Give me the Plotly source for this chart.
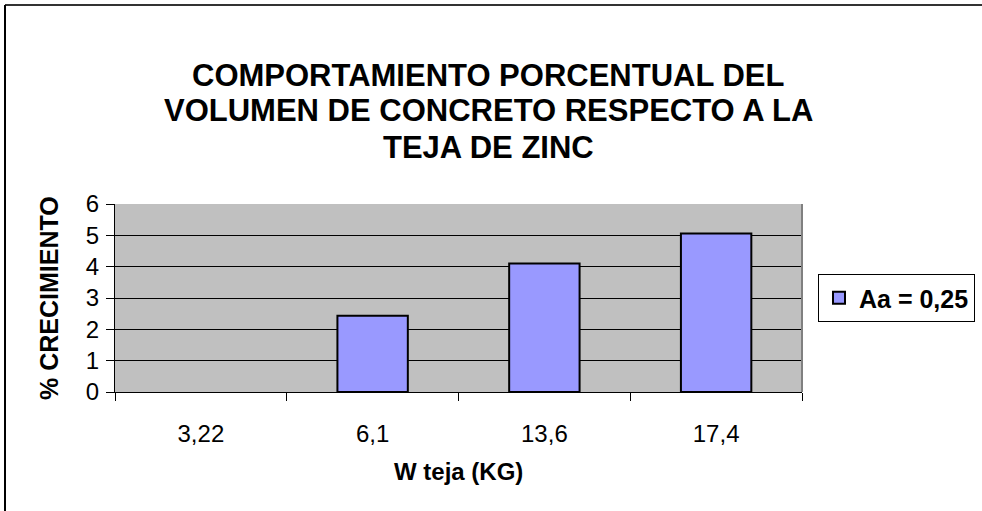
import plotly.graph_objects as go

# Chart data
categories = ["3,22", "6,1", "13,6", "17,4"]
crecimiento = [0, 2.43, 4.1, 5.06]
series_name = "Aa = 0,25"

title_lines = [
    "COMPORTAMIENTO PORCENTUAL DEL",
    "VOLUMEN DE CONCRETO RESPECTO A LA",
    "TEJA DE ZINC",
]
x_title = "W teja (KG)"
y_title = "% CRECIMIENTO"
y_ticks = [0, 1, 2, 3, 4, 5, 6]

FONT = "Arial, Liberation Sans, sans-serif"

W, H = 982, 511
L, R, T, B = 115, 180, 204, 119
pw, ph = W - L - R, H - T - B


def px_x(p):
    return (p - L) / pw


def px_y(p):
    return (H - B - p) / ph


fig = go.Figure()
fig.add_trace(go.Bar(
    x=categories,
    y=crecimiento,
    name=series_name,
    width=0.41,
    marker=dict(
        color="#9999FF",
        line=dict(color="#000000", width=[2 if v else 0 for v in crecimiento]),
    ),
    showlegend=True,
))

fig.update_layout(
    width=W, height=H,
    margin=dict(l=L, r=R, t=T, b=B, pad=0, autoexpand=False),
    paper_bgcolor="white",
    plot_bgcolor="#C0C0C0",
    font=dict(family=FONT, color="black", size=24),
    showlegend=True,
    legend=dict(
        x=px_x(818), xanchor="left",
        y=0.5, yanchor="middle",
        bordercolor="#000000", borderwidth=1,
        bgcolor="white",
        font=dict(family=FONT, size=25, color="black", weight="bold"),
        itemsizing="constant",
        tracegroupgap=0,
    ),
)

fig.update_xaxes(
    type="category",
    showgrid=False,
    showline=True, linecolor="#000000", linewidth=1,
    ticks="outside", tickson="boundaries", ticklen=8, tickcolor="#000000",
    tickfont=dict(family=FONT, size=24, color="black"),
    ticklabelstandoff=20,
    zeroline=False,
    fixedrange=True,
)
fig.update_yaxes(
    range=[0, 6],
    tickvals=y_ticks,
    showgrid=True, gridcolor="#000000", gridwidth=1,
    showline=True, linecolor="#000000", linewidth=1,
    ticks="outside", ticklen=8, tickcolor="#000000",
    tickfont=dict(family=FONT, size=24, color="black"),
    ticklabelstandoff=2,
    zeroline=False,
    fixedrange=True,
)

# Chart title, one annotation per line
for line, ypx in zip(title_lines, [75, 111, 147]):
    fig.add_annotation(
        text=line,
        xref="paper", yref="paper",
        x=px_x(488), y=px_y(ypx),
        xanchor="center", yanchor="middle",
        showarrow=False,
        font=dict(family=FONT, size=31, color="black", weight="bold"),
    )
# Axis titles
fig.add_annotation(
    text=x_title,
    xref="paper", yref="paper",
    x=0.5, y=px_y(471),
    xanchor="center", yanchor="middle",
    showarrow=False,
    font=dict(family=FONT, size=24, color="black", weight="bold"),
)
fig.add_annotation(
    text=y_title,
    xref="paper", yref="paper",
    x=px_x(49), y=0.5,
    xanchor="center", yanchor="middle",
    textangle=-90,
    showarrow=False,
    font=dict(family=FONT, size=25, color="black", weight="bold"),
)

# Plot-area right border and chart frame
fig.add_shape(type="line", xref="paper", yref="paper",
              x0=1, x1=1, y0=0, y1=1,
              line=dict(color="#808080", width=2))
fig.add_shape(type="line", xref="paper", yref="paper",
              x0=px_x(5), x1=px_x(W + 10), y0=px_y(5), y1=px_y(5),
              line=dict(color="#333333", width=2))
fig.add_shape(type="line", xref="paper", yref="paper",
              x0=px_x(5), x1=px_x(5), y0=px_y(5), y1=px_y(H + 10),
              line=dict(color="#000000", width=2))

fig.write_html("out.html")
